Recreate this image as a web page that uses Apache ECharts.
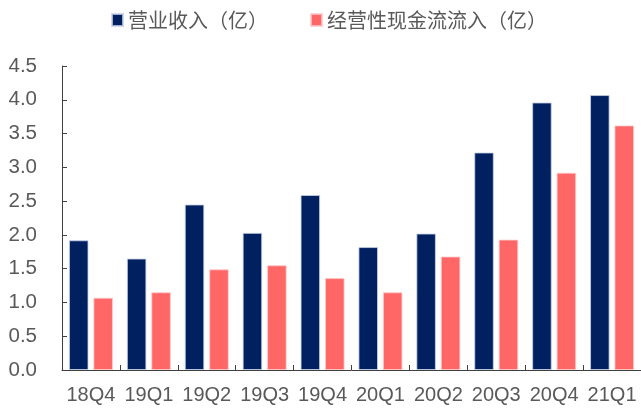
<!DOCTYPE html>
<html>
<head>
<meta charset="utf-8">
<script src="https://cdn.jsdelivr.net/npm/echarts@6/dist/echarts.min.js"></script>
<style>html,body{margin:0;padding:0;background:#fff;}#c{width:641px;height:410px;}</style>
</head>
<body>
<div id="c"></div>
<script>
var categories = ['18Q4','19Q1','19Q2','19Q3','19Q4','20Q1','20Q2','20Q3','20Q4','21Q1'];
var revenue = [1.92, 1.65, 2.45, 2.03, 2.59, 1.82, 2.02, 3.22, 3.96, 4.07];
var cashInflow = [1.07, 1.15, 1.49, 1.55, 1.36, 1.15, 1.68, 1.93, 2.92, 3.62];
var seriesNames = ['营业收入（亿）', '经营性现金流流入（亿）'];
var yTicks = { min: 0, max: 4.5, interval: 0.5 };

var chart = echarts.init(document.getElementById('c'));
var fontLatin = '"Liberation Sans", Arial, "Noto Sans CJK SC", sans-serif';
chart.setOption({
  animation: false,
  legend: {
    left: 111, top: 10, padding: 0,
    itemWidth: 11, itemHeight: 12, itemGap: 42,
    icon: 'rect',
    textStyle: { color: '#595959', fontSize: 20, fontFamily: '"Noto Sans CJK SC", sans-serif' },
    data: seriesNames
  },
  grid: { left: 62, right: 0, top: 66, bottom: 40, containLabel: false },
  xAxis: {
    type: 'category',
    data: categories,
    axisLine: { lineStyle: { color: '#404040', width: 1 } },
    axisTick: { show: true, inside: true, length: 5, lineStyle: { color: '#404040' } },
    axisLabel: { color: '#595959', fontSize: 20, fontFamily: fontLatin, margin: 15, interval: 0, hideOverlap: false }
  },
  yAxis: {
    type: 'value',
    min: yTicks.min, max: yTicks.max, interval: yTicks.interval,
    splitLine: { show: false },
    axisLine: { show: true, lineStyle: { color: '#404040', width: 1 } },
    axisTick: { show: true, inside: true, length: 5, lineStyle: { color: '#404040' } },
    axisLabel: { color: '#595959', fontSize: 20.5, fontFamily: fontLatin, margin: 25,
      formatter: function (v) { return v.toFixed(1); } }
  },
  series: [
    { name: seriesNames[0], type: 'bar', data: revenue, barGap: '25%', barCategoryGap: '24%',
      itemStyle: { color: '#002060', borderColor: 'rgba(200,210,230,0.8)', borderWidth: 1 } },
    { name: seriesNames[1], type: 'bar', data: cashInflow,
      itemStyle: { color: '#FF6666', borderColor: 'rgba(255,200,200,0.8)', borderWidth: 1 } }
  ]
});
</script>
</body>
</html>
